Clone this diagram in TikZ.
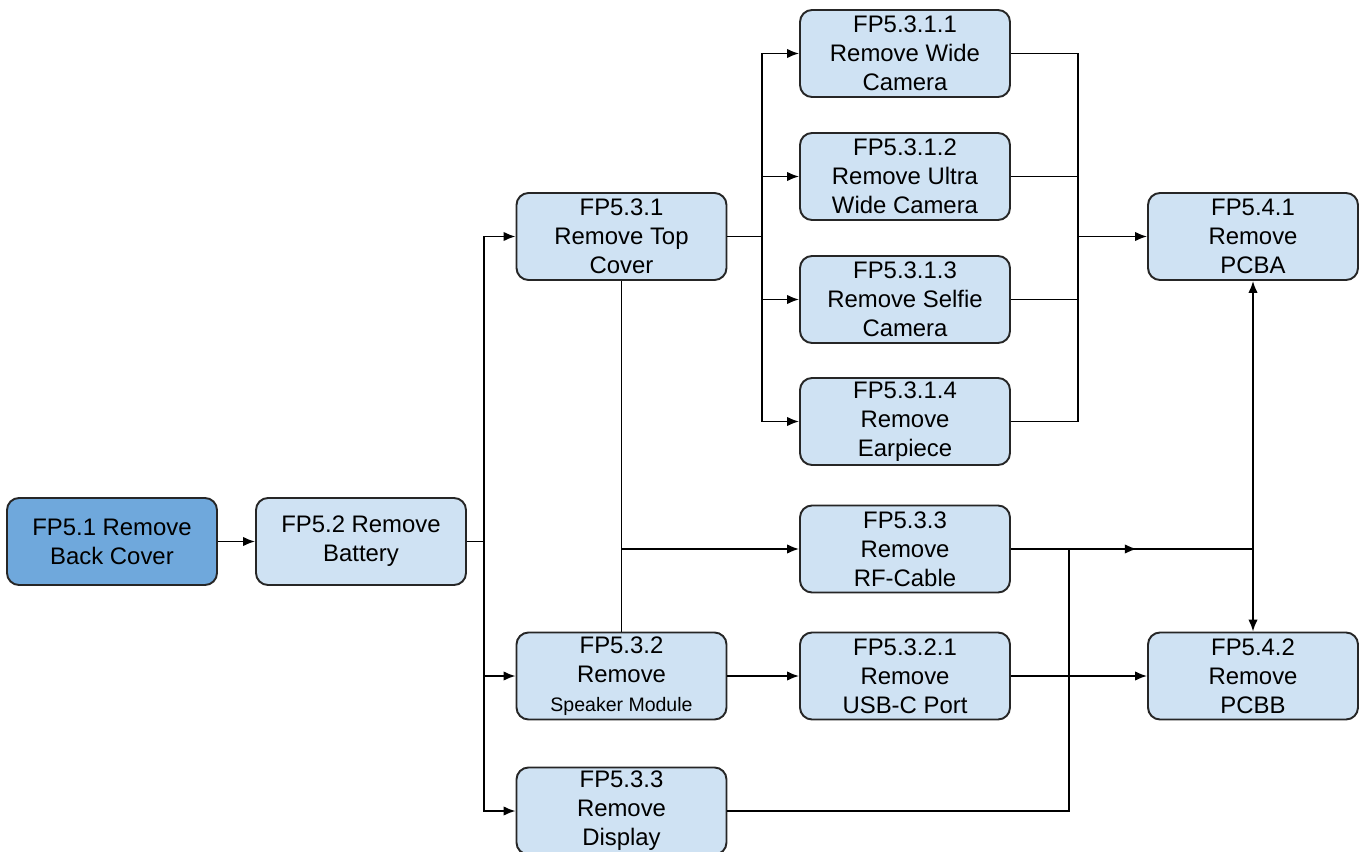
\documentclass[tikz,border=0pt]{standalone}
\usepackage{fontspec}
\setmainfont{Liberation Sans}
\usetikzlibrary{arrows.meta,decorations.markings}

\definecolor{boxfill}{HTML}{CFE2F3}
\definecolor{startfill}{HTML}{6FA8DC}
\definecolor{boxline}{HTML}{262626}

\tikzset{
	stepbox/.style={draw=boxline,line width=1.1pt,fill=boxfill,rounded corners=0.24cm,
		minimum width=4.2cm,minimum height=1.74cm,inner sep=0pt,align=center,
		font=\fontsize{13.6}{16.5}\selectfont},
	startbox/.style={stepbox,fill=startfill},
	arr/.style={line width=1pt,-{Latex[length=2.4mm,width=1.9mm]}},
	wire/.style={line width=1pt},
	midarr/.style={wire,postaction={decorate},decoration={markings,
		mark=at position 0.52 with {\arrow{Latex[length=2.4mm,width=1.9mm]}}}}
}

\begin{document}
\begin{tikzpicture}
	\useasboundingbox (0,0) rectangle (27.22,-17.04);

	\node[startbox] (b51) at (2.24,-10.83) {FP5.1 Remove\\Back Cover};
	\node[stepbox] (b52) at (7.22,-10.83) {FP5.2 Remove\\Battery};
	\node[stepbox] (b531) at (12.43,-4.73) {FP5.3.1\\Remove Top\\Cover};
	\node[stepbox] (b532) at (12.43,-13.52) {FP5.3.2\\Remove\\{\fontsize{11.1}{13}\selectfont Speaker Module}};
	\node[stepbox] (b533d) at (12.43,-16.22) {FP5.3.3\\Remove\\Display};
	\node[stepbox] (b5311) at (18.10,-1.07) {FP5.3.1.1\\Remove Wide\\Camera};
	\node[stepbox] (b5312) at (18.10,-3.53) {FP5.3.1.2\\Remove Ultra\\Wide Camera};
	\node[stepbox] (b5313) at (18.10,-5.99) {FP5.3.1.3\\Remove Selfie\\Camera};
	\node[stepbox] (b5314) at (18.10,-8.43) {FP5.3.1.4\\Remove\\Earpiece};
	\node[stepbox] (b533) at (18.10,-10.98) {FP5.3.3\\Remove\\RF-Cable};
	\node[stepbox] (b5321) at (18.10,-13.52) {FP5.3.2.1\\Remove\\USB-C Port};
	\node[stepbox] (b541) at (25.06,-4.73) {FP5.4.1\\Remove\\PCBA};
	\node[stepbox] (b542) at (25.06,-13.52) {FP5.4.2\\Remove\\PCBB};

	\coordinate (j1) at (9.68,-10.83);
	\coordinate (j2) at (15.24,-4.73);
	\coordinate (j3) at (21.56,-4.73);
	\coordinate (j4) at (25.06,-10.98);
	\coordinate (j5) at (21.38,-10.98);

	\draw[arr] (b51) -- (b52);
	\draw[wire] (b52.east) -- (j1);
	\draw[arr] (j1) |- (b531);
	\draw[arr] (j1) |- (b532);
	\draw[arr] (j1) |- (b533d);

	\draw[wire] (b531.east) -- (j2);
	\foreach \n in {b5311,b5312,b5313,b5314}
		\draw[arr] (j2) |- (\n);
	\foreach \n in {b5311,b5312,b5313,b5314}
		\draw[wire] (\n.east) -| (j3);
	\draw[arr] (j3) -- (b541);

	\draw[wire] (b531.south) -- (b532.north);
	\draw[arr] (b531.south |- b533.west) -- (b533.west);
	\draw[arr] (b532) -- (b5321);
	\draw[arr] (b5321) -- (b542);

	\draw[midarr] (b533.east) -- (j4);
	\draw[wire] (b533d.east) -| (j5);
	\draw[arr] (j4) -- (b541.south);
	\draw[arr] (j4) -- (b542.north);
\end{tikzpicture}
\end{document}
